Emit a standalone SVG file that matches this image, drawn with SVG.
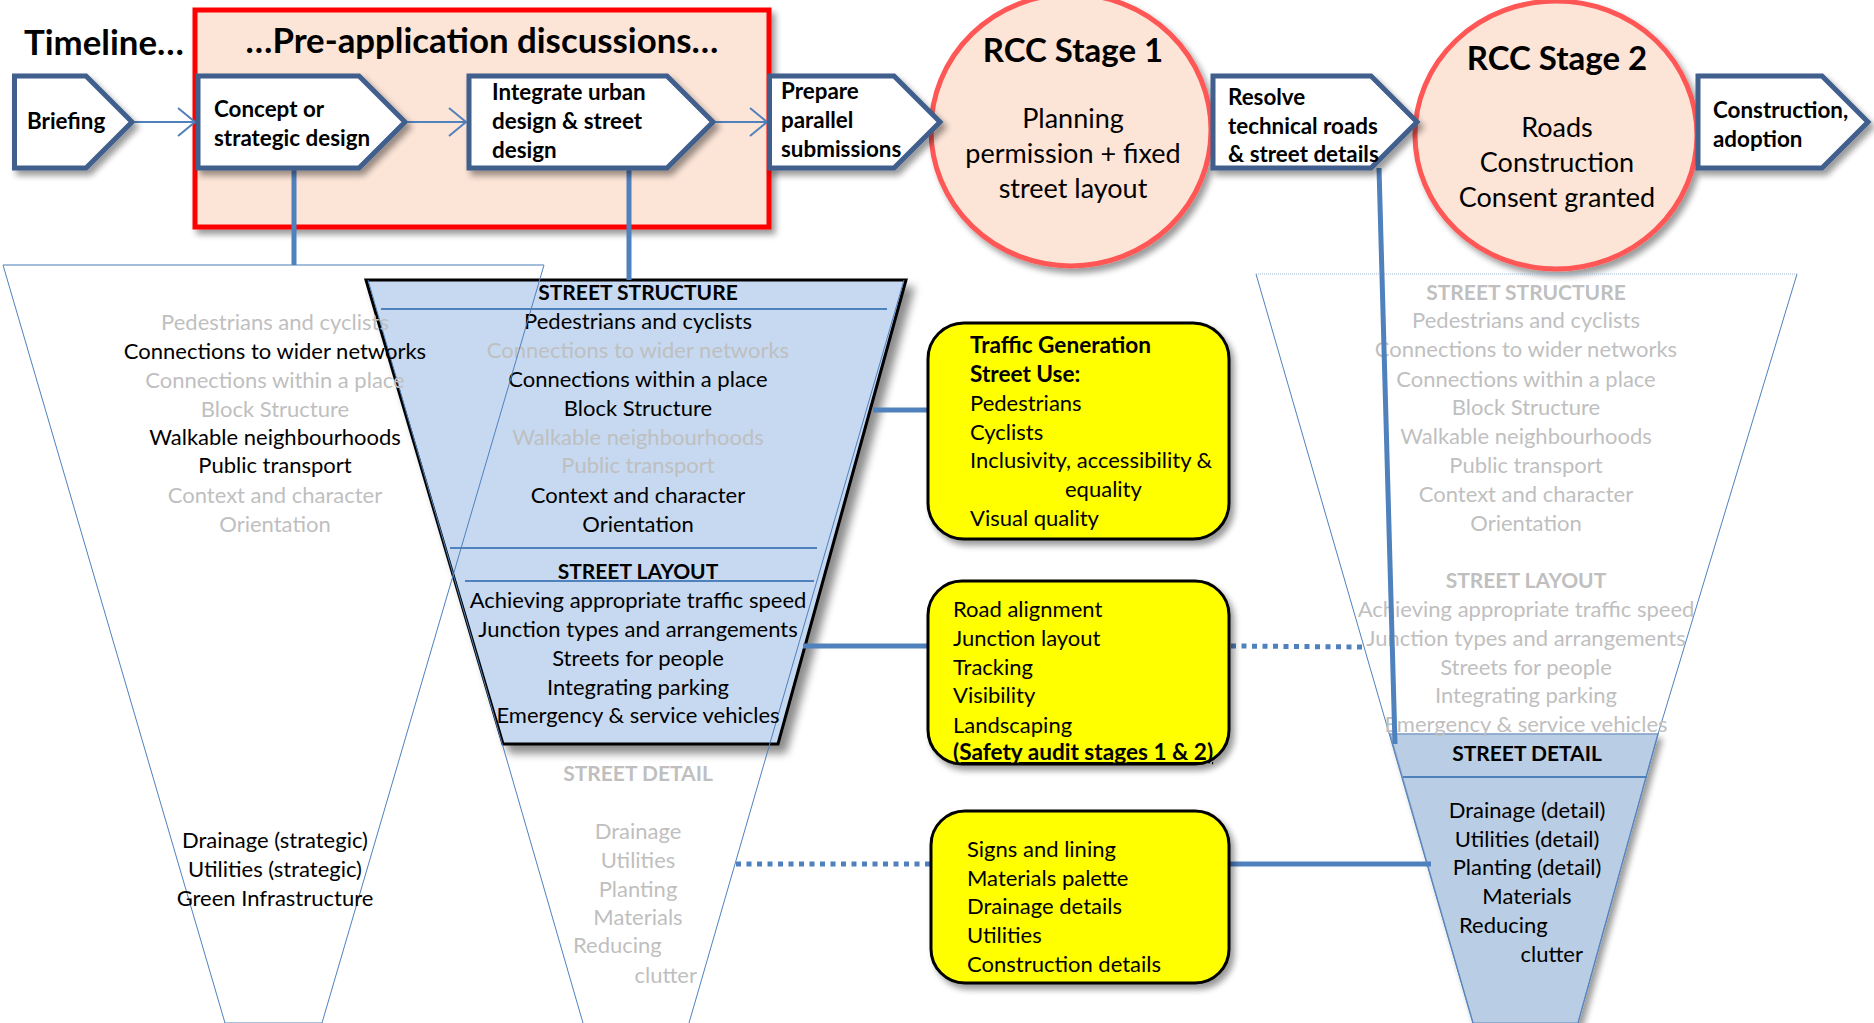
<svg xmlns="http://www.w3.org/2000/svg" width="1874" height="1023" viewBox="0 0 1874 1023">
  <style>
    text { font-family: Lato, "Open Sans", "Liberation Sans", sans-serif; fill: #000; }
    .title { font-size: 34.8px; font-weight: bold; }
    .step { font-size: 22.4px; font-weight: bold; }
    .rcc { font-size: 33px; font-weight: bold; text-anchor: middle; }
    .rccsub { font-size: 27px; text-anchor: middle; }
    .ft { font-size: 22px; text-anchor: middle; }
    .fh { font-size: 21px; font-weight: bold; text-anchor: middle; }
    .ls { text-anchor: start; }
    .le { text-anchor: end; }
    .grey { fill: #BFBFBF; }
    .yt { font-size: 22px; }
    .yb { font-size: 22.6px; font-weight: bold; }
    .chev { fill: #FFFFFF; stroke: #3F5F8C; stroke-width: 5; stroke-linejoin: miter; }
    .circ { fill: #FCE4D6; stroke: #FF5757; stroke-width: 5; }
    .ybox { fill: #FFFF00; stroke: #000; stroke-width: 3; }
    .thin { fill: none; stroke: #4F81BD; stroke-width: 1; }
    .rule { stroke: #4F81BD; stroke-width: 2; }
    .conn { stroke: #4F81BD; stroke-width: 5; fill: none; }
    .dots { stroke: #4F81BD; stroke-width: 5; stroke-dasharray: 5 5.5; fill: none; }
    .flow { stroke: #4F81BD; stroke-width: 2; fill: none; }
  </style>
  <defs>
    <filter id="shadow" x="-15%" y="-15%" width="140%" height="140%">
      <feGaussianBlur in="SourceAlpha" stdDeviation="3"/>
      <feOffset dx="4" dy="5" result="o"/>
      <feComponentTransfer><feFuncA type="linear" slope="0.4"/></feComponentTransfer>
      <feMerge><feMergeNode/><feMergeNode in="SourceGraphic"/></feMerge>
    </filter>
    <filter id="shadowBig" x="-15%" y="-15%" width="140%" height="140%">
      <feGaussianBlur in="SourceAlpha" stdDeviation="4"/>
      <feOffset dx="7" dy="8" result="o"/>
      <feComponentTransfer><feFuncA type="linear" slope="0.45"/></feComponentTransfer>
      <feMerge><feMergeNode/><feMergeNode in="SourceGraphic"/></feMerge>
    </filter>
    <marker id="openArrow" markerUnits="userSpaceOnUse" viewBox="0 0 20 30" refX="18" refY="15" markerWidth="20" markerHeight="30" orient="auto">
      <path d="M1,1 L18,15 L1,29" fill="none" stroke="#4F81BD" stroke-width="2"/>
    </marker>
  </defs>

  <rect width="1874" height="1023" fill="#FFFFFF"/>

  <!-- pre-application frame -->
  <g id="preapp">
    <rect x="195" y="10" width="574" height="217" fill="#FCE4D6" stroke="#FF0000" stroke-width="5" filter="url(#shadow)"/>
    <text class="title" x="482" y="53" text-anchor="middle">…Pre-application discussions…</text>
  </g>
  <text class="title" x="24" y="55">Timeline…</text>

  <!-- consent milestones -->
  <g id="rcc1">
    <ellipse class="circ" cx="1071" cy="130" rx="140" ry="136" filter="url(#shadow)"/>
    <text class="rcc" x="1073" y="62">RCC Stage 1</text>
    <text class="rccsub" x="1073" y="128">Planning</text>
    <text class="rccsub" x="1073" y="163">permission + fixed</text>
    <text class="rccsub" x="1073" y="198">street layout</text>
  </g>
  <g id="rcc2">
    <ellipse class="circ" cx="1556" cy="135" rx="141" ry="134" filter="url(#shadow)"/>
    <text class="rcc" x="1557" y="70">RCC Stage 2</text>
    <text class="rccsub" x="1557" y="137">Roads</text>
    <text class="rccsub" x="1557" y="172">Construction</text>
    <text class="rccsub" x="1557" y="207">Consent granted</text>
  </g>

  <!-- middle funnel: structure and layout -->
  <g id="funnel-mid">
    <polygon points="366,280 906,280 778,744 503,744" fill="#C6D9F1" stroke="#000" stroke-width="3" filter="url(#shadowBig)"/>
    <line class="rule" x1="381" y1="309" x2="887" y2="309"/>
    <line class="rule" x1="450" y1="548" x2="817" y2="548"/>
    <line class="rule" x1="465" y1="581" x2="814" y2="581"/>
    <polyline class="thin" points="368,280 583,1023"/>
    <polyline class="thin" points="904,280 689,1023"/>
    <text class="fh" x="638" y="300">STREET STRUCTURE</text>
    <text class="ft" x="638" y="329">Pedestrians and cyclists</text>
    <text class="ft grey" x="638" y="358">Connections to wider networks</text>
    <text class="ft" x="638" y="387">Connections within a place</text>
    <text class="ft" x="638" y="416">Block Structure</text>
    <text class="ft grey" x="638" y="445">Walkable neighbourhoods</text>
    <text class="ft grey" x="638" y="473">Public transport</text>
    <text class="ft" x="638" y="503">Context and character</text>
    <text class="ft" x="638" y="532">Orientation</text>
    <text class="fh" x="638" y="579">STREET LAYOUT</text>
    <text class="ft" x="638" y="608">Achieving appropriate traffic speed</text>
    <text class="ft" x="638" y="637">Junction types and arrangements</text>
    <text class="ft" x="638" y="666">Streets for people</text>
    <text class="ft" x="638" y="695">Integrating parking</text>
    <text class="ft" x="638" y="723">Emergency &amp; service vehicles</text>
    <text class="fh grey" x="638" y="781">STREET DETAIL</text>
    <text class="ft grey" x="638" y="839">Drainage</text>
    <text class="ft grey" x="638" y="868">Utilities</text>
    <text class="ft grey" x="638" y="897">Planting</text>
    <text class="ft grey" x="638" y="925">Materials</text>
    <text class="ft ls grey" x="573" y="953">Reducing</text>
    <text class="ft le grey" x="697" y="983">clutter</text>
  </g>

  <!-- left funnel: strategic -->
  <g id="funnel-left">
    <polygon class="thin" points="3,265 544,265 322,1023 225,1023"/>
    <line x1="3" y1="265" x2="544" y2="265" stroke="#9DB3D3" stroke-width="1" stroke-dasharray="1 1"/>
    <text class="ft grey" x="275" y="330">Pedestrians and cyclists</text>
    <text class="ft" x="275" y="359">Connections to wider networks</text>
    <text class="ft grey" x="275" y="388">Connections within a place</text>
    <text class="ft grey" x="275" y="417">Block Structure</text>
    <text class="ft" x="275" y="445">Walkable neighbourhoods</text>
    <text class="ft" x="275" y="473">Public transport</text>
    <text class="ft grey" x="275" y="503">Context and character</text>
    <text class="ft grey" x="275" y="532">Orientation</text>
    <text class="ft" x="275" y="848">Drainage (strategic)</text>
    <text class="ft" x="275" y="877">Utilities (strategic)</text>
    <text class="ft" x="275" y="906">Green Infrastructure</text>
  </g>

  <!-- right funnel: detail -->
  <g id="funnel-right">
    <polygon points="1390,734 1658,734 1578,1023 1473,1023" fill="#B9CDE5" stroke="#7F9DC4" stroke-width="1.5" filter="url(#shadow)"/>
    <line class="rule" x1="1403" y1="777" x2="1647" y2="777"/>
    <polyline class="thin" points="1256,274 1473,1023"/>
    <polyline class="thin" points="1797,274 1658,734 1578,1023"/>
    <line x1="1256" y1="274" x2="1797" y2="274" stroke="#9DB3D3" stroke-width="1" stroke-dasharray="1 1"/>
    <text class="fh grey" x="1526" y="300">STREET STRUCTURE</text>
    <text class="ft grey" x="1526" y="328">Pedestrians and cyclists</text>
    <text class="ft grey" x="1526" y="357">Connections to wider networks</text>
    <text class="ft grey" x="1526" y="387">Connections within a place</text>
    <text class="ft grey" x="1526" y="415">Block Structure</text>
    <text class="ft grey" x="1526" y="444">Walkable neighbourhoods</text>
    <text class="ft grey" x="1526" y="473">Public transport</text>
    <text class="ft grey" x="1526" y="502">Context and character</text>
    <text class="ft grey" x="1526" y="531">Orientation</text>
    <text class="fh grey" x="1526" y="588">STREET LAYOUT</text>
    <text class="ft grey" x="1526" y="617">Achieving appropriate traffic speed</text>
    <text class="ft grey" x="1526" y="646">Junction types and arrangements</text>
    <text class="ft grey" x="1526" y="675">Streets for people</text>
    <text class="ft grey" x="1526" y="703">Integrating parking</text>
    <text class="ft grey" x="1526" y="732">Emergency &amp; service vehicles</text>
    <text class="fh" x="1527" y="761">STREET DETAIL</text>
    <text class="ft" x="1527" y="818">Drainage (detail)</text>
    <text class="ft" x="1527" y="847">Utilities (detail)</text>
    <text class="ft" x="1527" y="875">Planting (detail)</text>
    <text class="ft" x="1527" y="904">Materials</text>
    <text class="ft ls" x="1459" y="933">Reducing</text>
    <text class="ft le" x="1583" y="962">clutter</text>
  </g>

  <!-- connectors -->
  <g id="connectors">
    <line class="flow" x1="135" y1="122" x2="195" y2="122" marker-end="url(#openArrow)"/>
    <line class="flow" x1="408" y1="122" x2="466" y2="122" marker-end="url(#openArrow)"/>
    <line class="flow" x1="716" y1="122" x2="767" y2="122" marker-end="url(#openArrow)"/>
    <line class="conn" x1="294" y1="168" x2="294" y2="265"/>
    <line class="conn" x1="629" y1="168" x2="629" y2="280"/>
    <line class="conn" x1="1379" y1="168" x2="1395" y2="744"/>
    <line class="conn" x1="873" y1="410" x2="928" y2="410"/>
    <line class="conn" x1="803" y1="646" x2="928" y2="646"/>
    <line class="dots" x1="1231" y1="646" x2="1363" y2="647"/>
    <line class="dots" x1="736" y1="864" x2="931" y2="864"/>
    <line class="conn" x1="1229" y1="864" x2="1431" y2="864"/>
  </g>

  <!-- timeline steps -->
  <g id="briefing">
    <path class="chev" d="M14.5,76 H86 L132,122 L86,168 H14.5 Z" filter="url(#shadow)"/>
    <text class="step" x="27" y="129">Briefing</text>
  </g>
  <g id="concept">
    <path class="chev" d="M198,76 H359 L405,122 L359,168 H198 Z" filter="url(#shadow)"/>
    <text class="step" x="214" y="117">Concept or</text>
    <text class="step" x="214" y="146">strategic design</text>
  </g>
  <g id="integrate">
    <path class="chev" d="M469,76 H667 L713,122 L667,168 H469 Z" filter="url(#shadow)"/>
    <text class="step" x="492" y="100">Integrate urban</text>
    <text class="step" x="492" y="129">design &amp; street</text>
    <text class="step" x="492" y="158">design</text>
  </g>
  <g id="prepare">
    <path class="chev" d="M769.5,76 H894 L940,122 L894,168 H769.5 Z" filter="url(#shadow)"/>
    <text class="step" x="781" y="99">Prepare</text>
    <text class="step" x="781" y="128">parallel</text>
    <text class="step" x="781" y="157">submissions</text>
  </g>
  <g id="resolve">
    <path class="chev" d="M1213,76 H1371 L1417,122 L1371,168 H1213 Z" filter="url(#shadow)"/>
    <text class="step" x="1228" y="105">Resolve</text>
    <text class="step" x="1228" y="134">technical roads</text>
    <text class="step" x="1228" y="162">&amp; street details</text>
  </g>
  <g id="construction">
    <path class="chev" d="M1698,76 H1822 L1868,122 L1822,168 H1698 Z" filter="url(#shadow)"/>
    <text class="step" x="1713" y="118">Construction,</text>
    <text class="step" x="1713" y="147">adoption</text>
  </g>

  <!-- yellow checklist boxes -->
  <g id="box-use">
    <rect class="ybox" x="928" y="323" width="301" height="216" rx="36" ry="36" filter="url(#shadow)"/>
    <text class="yb" x="970" y="353">Traffic Generation</text>
    <text class="yb" x="970" y="382">Street Use:</text>
    <text class="yt" x="970" y="411">Pedestrians</text>
    <text class="yt" x="970" y="440">Cyclists</text>
    <text class="yt" x="970" y="468">Inclusivity, accessibility &amp;</text>
    <text class="yt" x="1065" y="497">equality</text>
    <text class="yt" x="970" y="526">Visual quality</text>
  </g>
  <g id="box-layout">
    <rect class="ybox" x="928" y="581" width="301" height="183" rx="34" ry="34" filter="url(#shadow)"/>
    <text class="yt" x="953" y="617">Road alignment</text>
    <text class="yt" x="953" y="646">Junction layout</text>
    <text class="yt" x="953" y="675">Tracking</text>
    <text class="yt" x="953" y="703">Visibility</text>
    <text class="yt" x="953" y="733">Landscaping</text>
    <text class="yb" x="953" y="760" text-decoration="underline">(Safety audit stages 1 &amp; 2)</text>
  </g>
  <g id="box-detail">
    <rect class="ybox" x="931" y="811" width="298" height="172" rx="34" ry="34" filter="url(#shadow)"/>
    <text class="yt" x="967" y="857">Signs and lining</text>
    <text class="yt" x="967" y="886">Materials palette</text>
    <text class="yt" x="967" y="914">Drainage details</text>
    <text class="yt" x="967" y="943">Utilities</text>
    <text class="yt" x="967" y="972">Construction details</text>
  </g>
</svg>
